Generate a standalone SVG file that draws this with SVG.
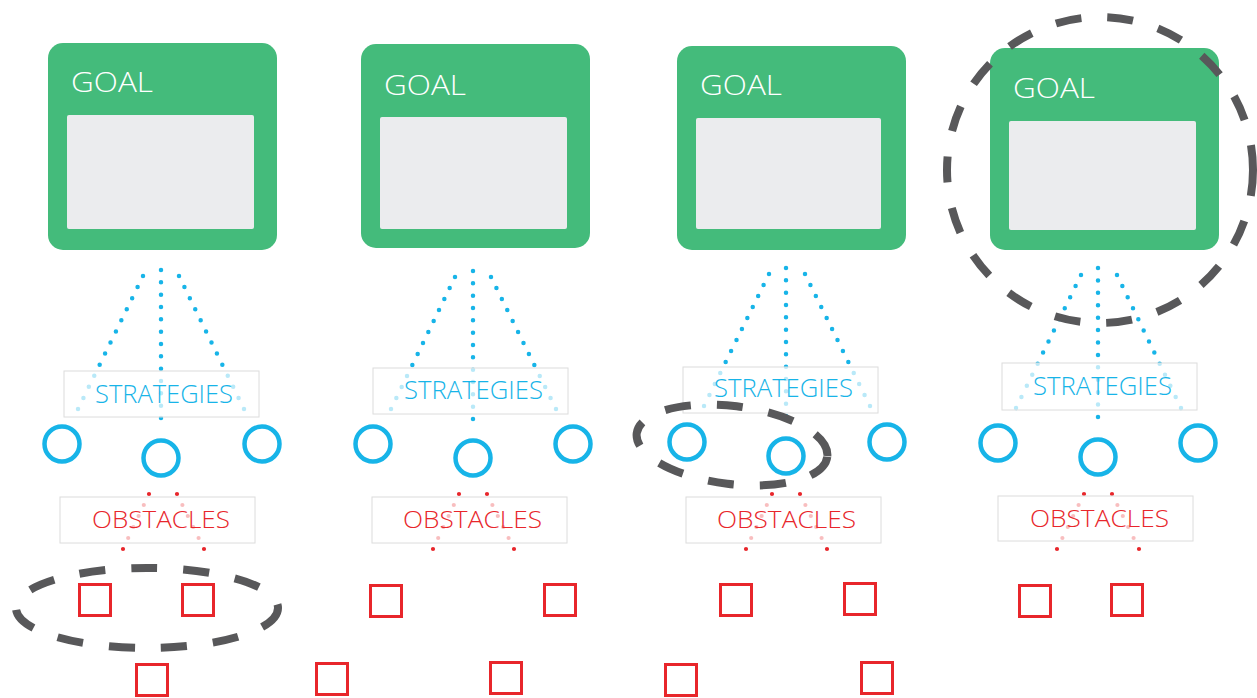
<svg xmlns="http://www.w3.org/2000/svg" width="1257" height="698" viewBox="0 0 1257 698">
<style>
.goal{fill:#44BB7B}
.pane{fill:#EBECEE}
.gt{font-family:"Open Sans","Liberation Sans",sans-serif;font-weight:300;font-size:28px;fill:#FFFFFF}
.blue{fill:none;stroke:#17B4E8;stroke-width:4.5;stroke-linecap:round;stroke-dasharray:0 0.9999}
.red{fill:none;stroke:#E8262B;stroke-width:4.2;stroke-linecap:round;stroke-dasharray:0 0.9999}
.lbl{fill:#FFFFFF;fill-opacity:0.7;stroke:#DCDCDC;stroke-width:1}
.st{font-family:"Open Sans","Liberation Sans",sans-serif;font-weight:300;font-size:25px;fill:#17B4E8}
.ot{font-family:"Open Sans","Liberation Sans",sans-serif;font-weight:300;font-size:24px;fill:#E8262B}
.circ{fill:none;stroke:#17B4E8;stroke-width:4.5}
.sq{fill:none;stroke:#E8262B;stroke-width:3}
.hl{fill:none;stroke:#58585A;stroke-width:8;stroke-dasharray:26 26}
</style>

<!-- Column 1 -->
<g id="goal1"><rect class="goal" x="48" y="43" width="229" height="207" rx="15"/><rect class="pane" x="67" y="115" width="187" height="114" rx="2"/><text class="gt" x="71" y="92" textLength="82" lengthAdjust="spacingAndGlyphs">GOAL</text></g>
<!-- Column 2 -->
<g id="goal2"><rect class="goal" x="361" y="44" width="229" height="204" rx="15"/><rect class="pane" x="380" y="117" width="187" height="112" rx="2"/><text class="gt" x="384" y="95" textLength="82" lengthAdjust="spacingAndGlyphs">GOAL</text></g>
<!-- Column 3 -->
<g id="goal3"><rect class="goal" x="677" y="46" width="229" height="204" rx="15"/><rect class="pane" x="696" y="118" width="185" height="111" rx="2"/><text class="gt" x="700" y="95" textLength="82" lengthAdjust="spacingAndGlyphs">GOAL</text></g>
<!-- Column 4 -->
<g id="goal4"><rect class="goal" x="990" y="48" width="229" height="202" rx="15"/><rect class="pane" x="1009" y="121" width="187" height="109" rx="2"/><text class="gt" x="1013" y="98" textLength="82" lengthAdjust="spacingAndGlyphs">GOAL</text></g>

<g id="connectors">
<line class="blue" pathLength="12" x1="161" y1="270" x2="161" y2="418"/>
<line class="blue" pathLength="12" x1="143" y1="276" x2="78" y2="409"/>
<line class="blue" pathLength="12" x1="179" y1="276" x2="244" y2="409"/>
<line class="blue" pathLength="12" x1="473" y1="271" x2="473" y2="419"/>
<line class="blue" pathLength="12" x1="455" y1="277" x2="391" y2="409"/>
<line class="blue" pathLength="12" x1="491" y1="277" x2="556" y2="409"/>
<line class="blue" pathLength="12" x1="786" y1="268" x2="786" y2="416"/>
<line class="blue" pathLength="12" x1="769" y1="274" x2="704" y2="406"/>
<line class="blue" pathLength="12" x1="805" y1="274" x2="870" y2="406"/>
<line class="blue" pathLength="12" x1="1098" y1="268" x2="1098" y2="417"/>
<line class="blue" pathLength="12" x1="1081" y1="275" x2="1016" y2="408"/>
<line class="blue" pathLength="12" x1="1117" y1="275" x2="1181" y2="408"/>
<line class="red" pathLength="5" x1="149" y1="494" x2="123" y2="549"/>
<line class="red" pathLength="5" x1="177" y1="494" x2="204" y2="549"/>
<line class="red" pathLength="5" x1="459" y1="494" x2="433" y2="549"/>
<line class="red" pathLength="5" x1="487" y1="494" x2="514" y2="549"/>
<line class="red" pathLength="5" x1="772" y1="494" x2="746" y2="549"/>
<line class="red" pathLength="5" x1="800" y1="494" x2="827" y2="549"/>
<line class="red" pathLength="5" x1="1084" y1="494" x2="1057" y2="549"/>
<line class="red" pathLength="5" x1="1112" y1="494" x2="1139" y2="549"/>
</g>

<g id="strategies1"><rect class="lbl" x="64" y="371" width="195" height="46"/><text class="st" x="95" y="403" textLength="138" lengthAdjust="spacingAndGlyphs">STRATEGIES</text></g>
<g id="strategies2"><rect class="lbl" x="373" y="368" width="195" height="46"/><text class="st" x="404" y="399" textLength="139" lengthAdjust="spacingAndGlyphs">STRATEGIES</text></g>
<g id="strategies3"><rect class="lbl" x="683" y="367" width="195" height="46"/><text class="st" x="714" y="397" textLength="139" lengthAdjust="spacingAndGlyphs">STRATEGIES</text></g>
<g id="strategies4"><rect class="lbl" x="1002" y="363" width="195" height="47"/><text class="st" x="1033" y="395" textLength="139" lengthAdjust="spacingAndGlyphs">STRATEGIES</text></g>

<g id="obstacles1"><rect class="lbl" x="60" y="497" width="195" height="46"/><text class="ot" x="92" y="528" textLength="138" lengthAdjust="spacingAndGlyphs">OBSTACLES</text></g>
<g id="obstacles2"><rect class="lbl" x="372" y="497" width="195" height="46"/><text class="ot" x="403" y="528" textLength="139" lengthAdjust="spacingAndGlyphs">OBSTACLES</text></g>
<g id="obstacles3"><rect class="lbl" x="686" y="497" width="195" height="46"/><text class="ot" x="717" y="528" textLength="139" lengthAdjust="spacingAndGlyphs">OBSTACLES</text></g>
<g id="obstacles4"><rect class="lbl" x="998" y="496" width="195" height="45"/><text class="ot" x="1030" y="527" textLength="139" lengthAdjust="spacingAndGlyphs">OBSTACLES</text></g>

<g id="strategy-circles">
<circle class="circ" cx="62" cy="444" r="17.5"/><circle class="circ" cx="161" cy="458" r="17.5"/><circle class="circ" cx="262" cy="444" r="17.5"/>
<circle class="circ" cx="373" cy="444" r="17.5"/><circle class="circ" cx="473" cy="458" r="17.5"/><circle class="circ" cx="573" cy="444" r="17.5"/>
<circle class="circ" cx="687" cy="442" r="17.5"/><circle class="circ" cx="786" cy="456" r="17.5"/><circle class="circ" cx="887" cy="442" r="17.5"/>
<circle class="circ" cx="998" cy="443" r="17.5"/><circle class="circ" cx="1098" cy="457" r="17.5"/><circle class="circ" cx="1198" cy="443" r="17.5"/>
</g>

<g id="obstacle-squares">
<rect class="sq" x="79.5" y="584.5" width="31" height="31"/><rect class="sq" x="182.5" y="584.5" width="31" height="31"/><rect class="sq" x="136.5" y="664.5" width="31" height="31"/>
<rect class="sq" x="370.5" y="585.5" width="31" height="31"/><rect class="sq" x="544.5" y="584.5" width="31" height="31"/><rect class="sq" x="316.5" y="663.5" width="31" height="31"/><rect class="sq" x="490.5" y="662.5" width="31" height="31"/>
<rect class="sq" x="720.5" y="584.5" width="31" height="31"/><rect class="sq" x="844.5" y="583.5" width="31" height="31"/><rect class="sq" x="665.5" y="664.5" width="31" height="31"/><rect class="sq" x="861.5" y="662.5" width="31" height="31"/>
<rect class="sq" x="1019.5" y="585.5" width="31" height="31"/><rect class="sq" x="1111.5" y="584.5" width="31" height="31"/>
</g>

<g id="highlights">
<ellipse class="hl" cx="147" cy="608" rx="131" ry="40"/>
<ellipse class="hl" cx="732" cy="445" rx="96" ry="39" transform="rotate(7 732 445)"/>
<circle class="hl" cx="1100" cy="170" r="153"/>
</g>
</svg>
